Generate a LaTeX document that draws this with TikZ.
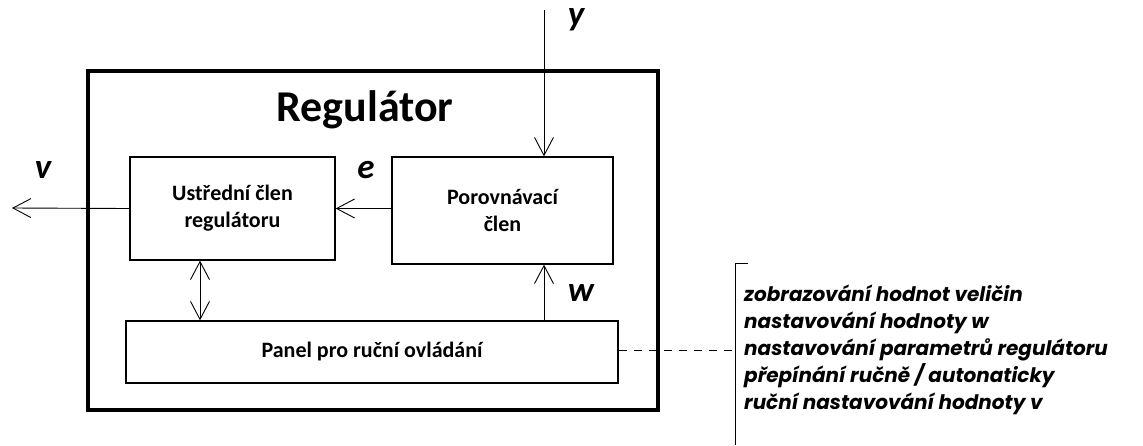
\documentclass[tikz,border=0pt]{standalone}
\usepackage{fontspec}
\setmainfont{Carlito}
\newfontfamily\notefont{Poppins}
\usetikzlibrary{arrows.meta}
\begin{document}
\begin{tikzpicture}[x=1pt,y=-1pt,
  box/.style={draw,line width=1.3pt,minimum width=#1,inner sep=0pt,align=center,font=\fontsize{22}{27}\selectfont\bfseries},
  arr/.style={line width=0.9pt,-{Straight Barb[length=18pt,width=19pt,line width=0.9pt]}},
  darr/.style={line width=0.9pt,{Straight Barb[length=18pt,width=19pt,line width=0.9pt]}-{Straight Barb[length=18pt,width=19pt,line width=0.9pt]}},
  lbl/.style={font=\fontsize{35}{35}\selectfont\bfseries\itshape,inner sep=0pt}]
\useasboundingbox (0,0) rectangle (1143,445);
% boxes
\node[draw,line width=3.6pt,minimum width=570pt,minimum height=339pt,inner sep=0pt] (outer) at (373,240.5) {};
\node[font=\fontsize{44}{44}\selectfont\bfseries,inner sep=0pt] (title) at (365,110) {Regulátor};
\node[box=205pt,minimum height=103pt] (ust) at (232.5,208.5) {Ustřední člen\\regulátoru};
\node[box=221pt,minimum height=107pt] (por) at (502.5,210.5) {Porovnávací\\člen};
\node[box=492pt,minimum height=62pt] (panel) at (372,352) {Panel pro ruční ovládání};
% coordinates
\coordinate (yin) at (544,10);
\coordinate (vout) at (12,208);
\coordinate (dx) at (200,0);
\coordinate (brk) at (735,350);
\coordinate (brktop) at (735,263);
\coordinate (brkbot) at (735,445);
\coordinate (brktick) at (748,263);
% connectors
\draw[arr] (yin) -- (yin |- por.north);
\draw[arr] (por.west |- ust.east) -- (ust.east);
\draw[arr] (ust.west) -- (vout);
\draw[darr] (ust.south -| dx) -- (panel.north -| dx);
\draw[arr] (panel.north -| yin) -- (por.south -| yin);
\draw[line width=0.9pt,dash pattern=on 8pt off 7pt] (panel.east |- brk) -- (brk);
\draw[line width=0.9pt] (brktick) -- (brktop) -- (brkbot);
% labels
\node[lbl] (ly) at (576,20) {y};
\node[lbl] (lv) at (43,170) {v};
\node[lbl] (le) at (366,170) {e};
\node[lbl] (lw) at (581,293) {w};
\node[anchor=north west,inner sep=0pt,align=left,font=\notefont\fontsize{20}{26.8}\selectfont\bfseries\itshape] (note) at (744,285)
 {zobrazování hodnot veličin\\nastavování hodnoty w\\nastavování parametrů regulátoru\\přepínání ručně / autonaticky\\ruční nastavování hodnoty v};
\end{tikzpicture}
\end{document}
